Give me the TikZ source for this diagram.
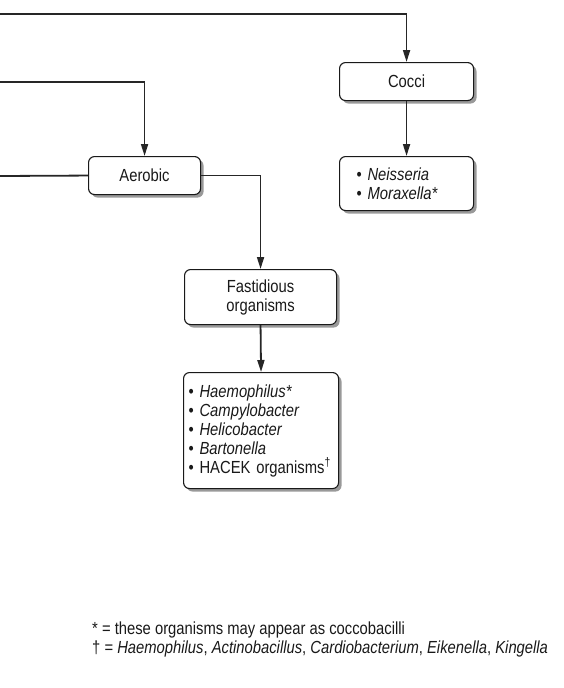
\documentclass[tikz,border=0pt]{standalone}
\usepackage{fontspec}
\setmainfont{Liberation Sans}[FakeStretch=0.845]
\usetikzlibrary{arrows.meta,shadows}
\tikzset{
  box/.style={draw=black!90, line width=1.1pt, rounded corners=6pt, fill=white, align=center,
    inner sep=0pt, anchor=north west,
    drop shadow={shadow xshift=3pt, shadow yshift=-3pt, fill=black!40, opacity=1}},
  conn/.style={line width=1.8pt, draw=black!85},
  arr/.style={conn, -{Triangle[length=12pt,width=7pt]}},
  txt/.style={font=\fontsize{17.5}{19}\selectfont, text=black!90}
}
\newcommand{\bul}{\textbullet\ }
\begin{document}
\begin{tikzpicture}[x=1pt,y=-1pt]
\useasboundingbox (0,0) rectangle (563,688);
% boxes
\node[box, txt, minimum width=134pt, minimum height=38pt] (cocci) at (339,62) {Cocci};
\node[box, txt, minimum width=134pt, minimum height=54pt, align=left,
      inner xsep=17pt, text width=100pt] (neis) at (339,156)
  {\bul\textit{Neisseria}\\\bul\textit{Moraxella*}};
\node[box, txt, minimum width=112pt, minimum height=38pt] (aer) at (88,156) {Aerobic};
\node[box, txt, minimum width=152pt, minimum height=55pt] (fast) at (184,269)
  {Fastidious\\organisms};
\node[box, txt, minimum width=155pt, minimum height=116pt, align=left,
      inner xsep=5pt, text width=145pt] (list) at (183,372)
  {\bul\textit{Haemophilus*}\\
   \bul\textit{Campylobacter}\\
   \bul\textit{Helicobacter}\\
   \bul\textit{Bartonella}\\
   \bul HACEK organisms\textsuperscript{\dag}};
% free ends
\coordinate (s1) at (0,14);
\coordinate (s2) at (0,82);
\coordinate (s3) at (0,176);
% connectors
\draw[arr] (s1) -| (cocci.north);
\draw[arr] (cocci.south) -- (neis.north);
\draw[arr] (s2) -| (aer.north);
\draw[conn] (s3) -- (aer.west);
\draw[arr] (aer.east) -| (fast.north);
\draw[arr] (fast.south) -- (list.north);
% footnotes
\node[txt, anchor=base west, align=left, inner sep=0pt] (fn1) at (92,634)
  {* = these organisms may appear as coccobacilli};
\node[txt, anchor=base west, align=left, inner sep=0pt] (fn2) at (92,653)
  {\dag\ = \textit{Haemophilus}, \textit{Actinobacillus}, \textit{Cardiobacterium}, \textit{Eikenella}, \textit{Kingella}};
\end{tikzpicture}
\end{document}
